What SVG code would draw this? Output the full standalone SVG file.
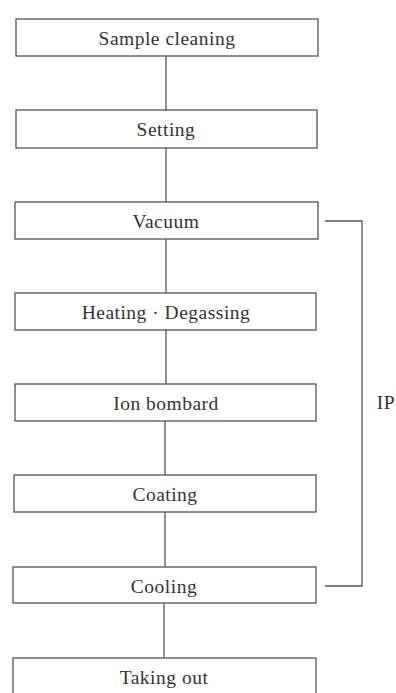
<svg xmlns="http://www.w3.org/2000/svg" width="396" height="693" viewBox="0 0 396 693">
<style>
.box{fill:#fff;stroke:#555;stroke-width:1.3}
.lbl{font-family:"Liberation Serif","Times New Roman",serif;font-size:19.5px;fill:#333;text-anchor:middle;letter-spacing:0.5px}
.con{fill:none;stroke:#555;stroke-width:1.3}
</style>
<rect width="396" height="693" fill="#fff"/>
<g id="connectors">
<line class="con" x1="166" y1="56" x2="166" y2="110"/>
<line class="con" x1="166" y1="148" x2="166" y2="202"/>
<line class="con" x1="166" y1="239" x2="166" y2="293"/>
<line class="con" x1="166" y1="330" x2="166" y2="384"/>
<line class="con" x1="165" y1="421" x2="165" y2="475"/>
<line class="con" x1="165" y1="512" x2="165" y2="567"/>
<line class="con" x1="164" y1="603" x2="164" y2="658"/>
<polyline class="con" points="325,221 362,221 362,586 325,586"/>
</g>
<g id="n1"><rect class="box" x="16" y="19" width="302" height="37"/><text class="lbl" x="167" y="45">Sample cleaning</text></g>
<g id="n2"><rect class="box" x="16" y="110" width="301" height="38"/><text class="lbl" x="166" y="136">Setting</text></g>
<g id="n3"><rect class="box" x="15" y="202" width="303" height="37"/><text class="lbl" x="166" y="228">Vacuum</text></g>
<g id="n4"><rect class="box" x="15" y="293" width="301" height="37"/><text class="lbl" x="166" y="319">Heating · Degassing</text></g>
<g id="n5"><rect class="box" x="15" y="384" width="301" height="37"/><text class="lbl" x="166" y="410">Ion bombard</text></g>
<g id="n6"><rect class="box" x="14" y="475" width="302" height="37"/><text class="lbl" x="165" y="501">Coating</text></g>
<g id="n7"><rect class="box" x="13" y="567" width="303" height="36"/><text class="lbl" x="164" y="593">Cooling</text></g>
<g id="n8"><rect class="box" x="13" y="658" width="303" height="50"/><text class="lbl" x="164" y="684">Taking out</text></g>
<g id="ip"><text class="lbl" x="386" y="409">IP</text></g>
</svg>
